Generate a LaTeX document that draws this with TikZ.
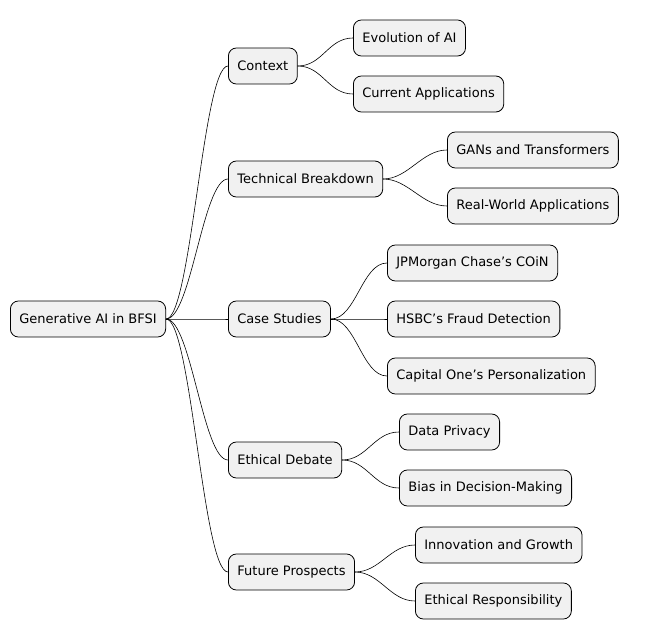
\documentclass[tikz,border=0pt]{standalone}
\usepackage{fontspec}
\setmainfont{DejaVu Sans}
\begin{document}
\begin{tikzpicture}[x=1pt,y=-1pt,line cap=round,
  box/.style={draw,fill=boxgray,rounded corners=8pt,anchor=west,inner xsep=9pt,
    minimum height=36pt,font=\fontsize{13}{15}\selectfont,line width=0.8pt},
  link/.style={line width=0.6pt}]
  \definecolor{boxgray}{HTML}{F1F1F1}
  \useasboundingbox (0,0) rectangle (654,639);
  \node[box] (root) at (10,319) {Generative AI in BFSI};
  \node[box] (ctx) at (228,66) {Context};
  \node[box] (tech) at (228,179) {Technical Breakdown};
  \node[box] (case) at (228,319) {Case Studies};
  \node[box] (eth) at (228,460) {Ethical Debate};
  \node[box] (fut) at (228,572) {Future Prospects};
  \node[box] (evo) at (353,38) {Evolution of AI};
  \node[box] (cur) at (353,94) {Current Applications};
  \node[box] (gan) at (447,150) {GANs and Transformers};
  \node[box] (real) at (447,206) {Real-World Applications};
  \node[box] (jpm) at (387,263) {JPMorgan Chase’s COiN};
  \node[box] (hsbc) at (387,319) {HSBC’s Fraud Detection};
  \node[box] (cap) at (387,376) {Capital One’s Personalization};
  \node[box] (priv) at (399,432) {Data Privacy};
  \node[box] (bias) at (399,488) {Bias in Decision-Making};
  \node[box] (inno) at (415,545) {Innovation and Growth};
  \node[box] (resp) at (415,601) {Ethical Responsibility};
  % links
  \foreach \p/\c in {root/ctx,root/tech,root/case,root/eth,root/fut,
      ctx/evo,ctx/cur,tech/gan,tech/real,case/jpm,case/hsbc,case/cap,
      eth/priv,eth/bias,fut/inno,fut/resp}
    \draw[link] (\p.east) .. controls +(25,0) and +(-25,0) .. (\c.west);
\end{tikzpicture}
\end{document}
